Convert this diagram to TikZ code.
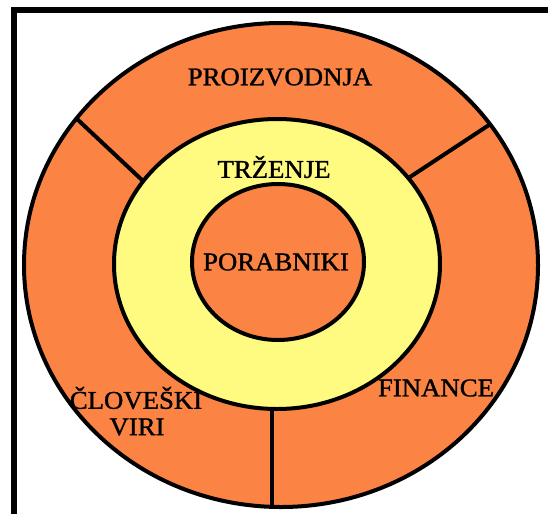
\documentclass[tikz,border=0pt]{standalone}
\usepackage{fontspec}
\setmainfont{Liberation Serif}[FakeStretch=1.05,FakeBold=1.2]
\definecolor{ringorange}{HTML}{FB8444}
\definecolor{ringyellow}{HTML}{FFFA80}
\begin{document}
\begin{tikzpicture}[x=1pt,y=-1pt,
  ring/.style={draw=black,line width=4pt},
  divider/.style={draw=black,line width=4pt},
  frameline/.style={draw=black,line width=6pt},
  lbl/.style={font=\fontsize{25.5}{27}\selectfont,text=black,inner sep=0pt,align=center}]
\useasboundingbox[fill=white] (0,0) rectangle (548,514);
% frame
\draw[frameline] (14,514) -- (14,10) -- (548,10);
% outer ring
\path[ring,fill=ringorange] (281,265) ellipse [x radius=257, y radius=242];
% dividers
\coordinate (dlo) at (77,119);
\coordinate (dli) at (142,180);
\coordinate (dro) at (489,125);
\coordinate (dri) at (410,177);
\coordinate (dbo) at (272,508);
\coordinate (dbi) at (272,405);
\draw[divider] (dlo) -- (dli);
\draw[divider] (dro) -- (dri);
\draw[divider] (dbi) -- (dbo);
% middle ring
\path[ring,fill=ringyellow] (277,264) ellipse [x radius=163, y radius=145];
% inner circle
\path[ring,fill=ringorange] (278,262) ellipse [x radius=86, y radius=78];
% labels
\node[lbl] (proizvodnja) at (280,77) {PROIZVODNJA};
\node[lbl] (trzenje) at (274,167) {TRŽENJE};
\node[lbl] (porabniki) at (276,262) {PORABNIKI};
\node[lbl] (finance) at (436,388) {FINANCE};
\node[lbl] (clovk) at (136,398) {ČLOVEŠKI};
\node[lbl] (viri) at (137,427) {VIRI};
\end{tikzpicture}
\end{document}
